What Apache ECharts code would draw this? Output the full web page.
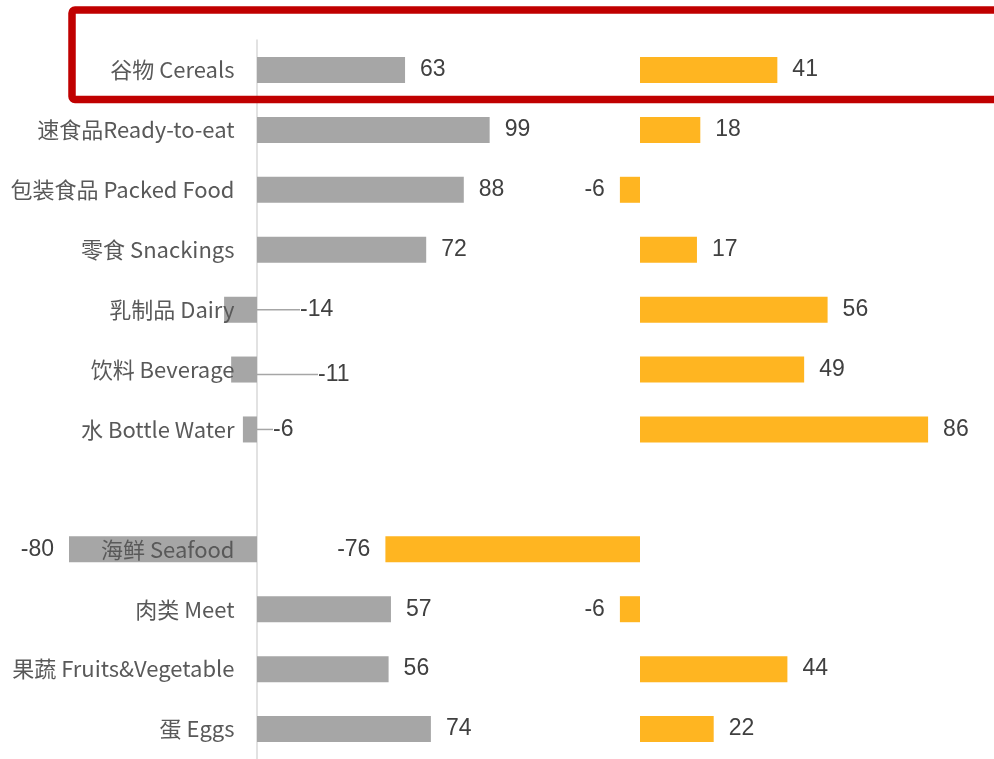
<!DOCTYPE html>
<html>
<head>
<meta charset="utf-8">
<script src="https://cdn.jsdelivr.net/npm/echarts@6/dist/echarts.min.js"></script>
<style>
  html, body { margin: 0; padding: 0; background: #fff; }
  #chart { width: 994px; height: 759px; }
</style>
</head>
<body>
<div id="chart"></div>
<script>
// Product categories, top to bottom (the empty entry leaves a gap row)
const categories = [
  '谷物 Cereals', '速食品Ready-to-eat', '包装食品 Packed Food', '零食 Snackings',
  '乳制品 Dairy', '饮料 Beverage', '水 Bottle Water', '',
  '海鲜 Seafood', '肉类 Meet', '果蔬 Fruits&Vegetable', '蛋 Eggs'
];
// Left panel (grey) values
const greyValues = [63, 99, 88, 72, -14, -11, -6, null, -80, 57, 56, 74];
// Right panel (orange) values
const orangeValues = [41, 18, -6, 17, 56, 49, 86, null, -76, -6, 44, 22];

// Small negative grey bars get their label pushed to the right with a leader line
const calloutShift = { 4: { dx: 43, dy: 0 }, 5: { dx: 61, dy: 5 }, 6: { dx: 16, dy: 0 } };

const GREY = '#A6A6A6';
const ORANGE = '#FFB521';
const valueFont = { color: '#404040', fontSize: 23, fontFamily: 'Liberation Sans, Arial, sans-serif' };

function greyItem(v, i) {
  if (v == null) return null;
  if (calloutShift[i]) {
    return {
      value: v,
      label: { position: 'right', distance: 0 },
      labelLine: { show: true, lineStyle: { color: GREY, width: 1.5 } }
    };
  }
  return { value: v, label: { position: v < 0 ? 'left' : 'right' } };
}

function orangeItem(v) {
  if (v == null) return null;
  return { value: v, label: { position: v < 0 ? 'left' : 'right' } };
}

// Category names sit just left of the grey panel's zero line, above the bars
const nameAnchors = categories.map(function (c) { return c ? [0, c] : null; });

const chart = echarts.init(document.getElementById('chart'), null, { renderer: 'canvas' });

chart.setOption({
  animation: false,
  backgroundColor: '#fff',
  grid: [
    { left: 22, width: 470, top: 40, height: 722 },
    { left: 305, width: 670, top: 40, height: 722 }
  ],
  xAxis: [
    { type: 'value', gridIndex: 0, min: -100, max: 100, show: false },
    { type: 'value', gridIndex: 1, min: -100, max: 100, show: false }
  ],
  yAxis: [
    {
      type: 'category', gridIndex: 0, data: categories, inverse: true,
      axisLine: { show: true, onZero: true, lineStyle: { color: '#D9D9D9', width: 1.5 } },
      axisTick: { show: false },
      axisLabel: { show: false }
    },
    { type: 'category', gridIndex: 1, data: categories, inverse: true, show: false }
  ],
  series: [
    {
      type: 'bar', xAxisIndex: 0, yAxisIndex: 0, barWidth: 26,
      itemStyle: { color: GREY },
      label: Object.assign({ show: true, distance: 15 }, valueFont),
      labelLayout: function (p) {
        const s = calloutShift[p.dataIndex];
        if (!s) return {};
        return {
          x: p.rect.x + p.rect.width + s.dx,
          y: p.rect.y + p.rect.height / 2 + s.dy,
          align: 'left', verticalAlign: 'middle'
        };
      },
      data: greyValues.map(greyItem)
    },
    {
      type: 'bar', xAxisIndex: 1, yAxisIndex: 1, barWidth: 26,
      itemStyle: { color: ORANGE },
      label: Object.assign({ show: true, distance: 15 }, valueFont),
      data: orangeValues.map(orangeItem)
    },
    {
      type: 'scatter', xAxisIndex: 0, yAxisIndex: 0, z: 5, silent: true,
      symbolSize: 1, itemStyle: { color: 'rgba(0,0,0,0)', opacity: 1 },
      label: {
        show: true, position: 'left', distance: 22, opacity: 1,
        color: '#595959', fontSize: 22,
        fontFamily: 'Noto Sans CJK SC, Noto Sans, sans-serif',
        formatter: function (p) { return categories[p.dataIndex]; }
      },
      data: nameAnchors
    }
  ],
  graphic: [
    {
      type: 'rect', z: 100, silent: true,
      shape: { x: 72, y: 10, width: 1000, height: 89.5, r: 3 },
      style: { fill: 'none', stroke: '#C00000', lineWidth: 7.5 }
    }
  ]
});
</script>
</body>
</html>
